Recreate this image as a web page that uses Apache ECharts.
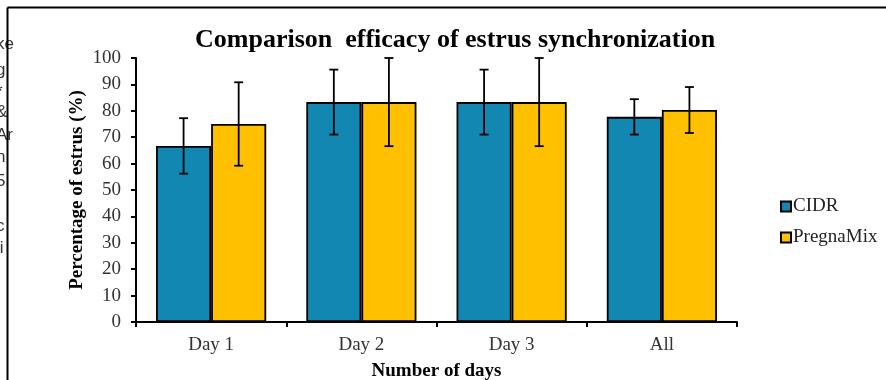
<!DOCTYPE html>
<html><head><meta charset="utf-8">
<script src="https://cdn.jsdelivr.net/npm/echarts@6/dist/echarts.min.js"></script>
<style>html,body{margin:0;padding:0;background:#fff}#c{width:886px;height:380px}</style>
</head><body><div id="c"></div>
<script>
var categories = ['Day 1', 'Day 2', 'Day 3', 'All'];
var cidr = [66.7, 83.3, 83.3, 77.7];
var cidrErr = [10.5, 12.3, 12.3, 6.7];
var pregna = [75.0, 83.3, 83.3, 80.3];
var pregnaErr = [15.8, 16.7, 16.7, 8.7];
var yTicks = [0, 10, 20, 30, 40, 50, 60, 70, 80, 90, 100];

var serif = '"Liberation Serif", "Times New Roman", serif';
var catGap = 0.2667;

function errData(vals, errs) {
  return vals.map(function (v, i) { return [i, v - errs[i], v + errs[i]]; });
}
function errSeries(name, vals, errs, side) {
  return {
    name: name, type: 'custom', z: 10, silent: true,
    data: errData(vals, errs),
    renderItem: function (params, api) {
      var catW = api.size([1, 0])[0];
      var bw = catW * (1 - catGap) / 2;
      var x0 = api.coord([api.value(0), 0])[0] + side * bw / 2;
      var lo = api.coord([api.value(0), api.value(1)])[1];
      var hi = api.coord([api.value(0), api.value(2)])[1];
      var cap = 4.5;
      var st = { stroke: '#000', lineWidth: 1.8 };
      return { type: 'group', children: [
        { type: 'line', shape: { x1: x0, y1: lo, x2: x0, y2: hi }, style: st },
        { type: 'line', shape: { x1: x0 - cap, y1: lo, x2: x0 + cap, y2: lo }, style: st },
        { type: 'line', shape: { x1: x0 - cap, y1: hi, x2: x0 + cap, y2: hi }, style: st }
      ] };
    }
  };
}

var chart = echarts.init(document.getElementById('c'));
var fragments = [
  ['ke', 46], ['g', 72], ['*', 94], ['&', 114], ['Ar', 137], ['n', 159], ['5', 183], ['\'', 208], ['c', 228], ['ji', 250]
];
var graphics = [
  { type: 'line', shape: { x1: 7.5, y1: 7.5, x2: 886, y2: 7.5 }, style: { stroke: '#000', lineWidth: 2 } },
  { type: 'line', shape: { x1: 7.5, y1: 7.5, x2: 7.5, y2: 380 }, style: { stroke: '#000', lineWidth: 2 } }
];
fragments.forEach(function (f) {
  graphics.push({ type: 'text', left: -4, top: f[1] - 10, z: -1,
    style: { text: f[0], font: '17px "Liberation Sans", Arial, sans-serif', fill: '#333' } });
});

chart.setOption({
  animation: false,
  backgroundColor: '#fff',
  graphic: graphics,
  title: {
    text: 'Comparison  efficacy of estrus synchronization',
    left: 190, top: 22,
    textStyle: { fontFamily: serif, fontWeight: 'bold', fontSize: 26, color: '#000' }
  },
  legend: {
    data: ['CIDR', 'PregnaMix'],
    orient: 'vertical', left: 775, top: 192,
    itemWidth: 10, itemHeight: 10, itemGap: 12,
    icon: 'rect',
    textStyle: { fontFamily: serif, fontSize: 19, color: '#222', padding: [0, 0, 0, -3] }
  },
  grid: { left: 136, right: 149, top: 58, bottom: 58, containLabel: false, outerBoundsMode: 'none' },
  xAxis: {
    type: 'category', data: categories,
    name: 'Number of days', nameLocation: 'middle', nameGap: 40,
    nameTextStyle: { fontFamily: serif, fontWeight: 'bold', fontSize: 19, color: '#000' },
    axisLine: { lineStyle: { color: '#000', width: 2 } },
    axisTick: { show: true, length: 5, lineStyle: { color: '#000', width: 2 } },
    axisLabel: { fontFamily: serif, fontSize: 19, color: '#333', margin: 14 }
  },
  yAxis: {
    type: 'value', min: 0, max: 100, interval: 10,
    name: 'Percentage of estrus (%)', nameLocation: 'middle', nameGap: 49, nameMoveOverlap: false,
    nameTextStyle: { fontFamily: serif, fontWeight: 'bold', fontSize: 19, color: '#000' },
    axisLine: { show: true, lineStyle: { color: '#000', width: 2 } },
    axisTick: { show: true, length: 5, lineStyle: { color: '#000', width: 2 } },
    splitLine: { show: false },
    axisLabel: { fontFamily: serif, fontSize: 19, color: '#333', margin: 15,
      formatter: function (v) { return yTicks.indexOf(v) >= 0 ? String(v) : ''; } }
  },
  series: [
    { name: 'CIDR', type: 'bar', data: cidr, barGap: '0%', barCategoryGap: (catGap * 100) + '%',
      itemStyle: { color: '#1287B1', borderColor: '#000', borderWidth: 1.8 } },
    { name: 'PregnaMix', type: 'bar', data: pregna, barGap: '0%', barCategoryGap: (catGap * 100) + '%',
      itemStyle: { color: '#FFC000', borderColor: '#000', borderWidth: 1.8 } },
    errSeries('CIDR err', cidr, cidrErr, -1),
    errSeries('PregnaMix err', pregna, pregnaErr, 1)
  ]
});
</script>
</body></html>
